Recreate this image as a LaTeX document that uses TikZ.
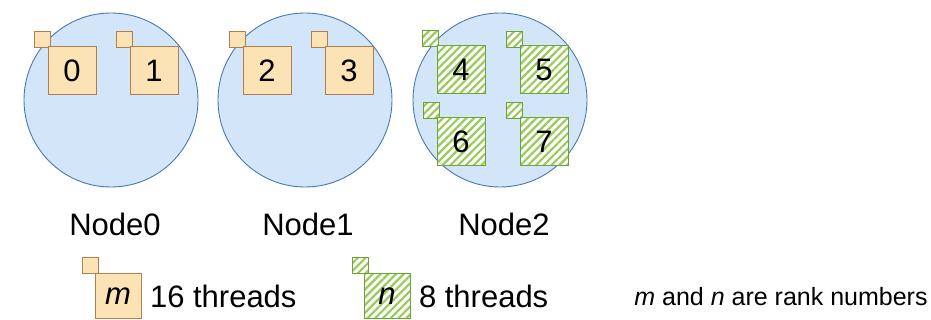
\documentclass[tikz,border=0pt]{standalone}
\usepackage{fontspec}
\setmainfont{Liberation Sans}
\usetikzlibrary{positioning,patterns.meta}

\definecolor{hostfill}{HTML}{D3E5F8}
\definecolor{hostedge}{HTML}{4A79B2}
\definecolor{rankfill}{HTML}{FBE3B6}
\definecolor{rankedge}{HTML}{B27E50}
\definecolor{hatchgreen}{HTML}{9ACB5A}
\definecolor{greenedge}{HTML}{6AA436}

\begin{document}
\begin{tikzpicture}[x=1pt, y=-1pt]
        \tikzstyle{host} = [circle, draw=hostedge, fill=hostfill, line width=0.9pt, minimum size=174pt, inner sep=0pt]
        \tikzstyle{rank} = [rectangle, draw=rankedge, fill=rankfill, line width=1pt, minimum size=48pt, inner sep=0pt, font=\fontsize{31}{36}\selectfont]
        \tikzstyle{tag} = [rectangle, draw=rankedge, fill=rankfill, line width=1pt, minimum size=16pt, inner sep=0pt, anchor=south east, xshift=3pt, yshift=-1pt]
        \tikzstyle{hatched} = [draw=greenedge, preaction={fill=white}, pattern={Lines[angle=45, distance=5.5pt, line width=2.2pt]}, pattern color=hatchgreen]
        \tikzstyle{caption} = [font=\fontsize{31}{36}\selectfont]

        \useasboundingbox (0,0) rectangle (931,320);

        % the three hosts
        \node [host] (host0) at (111,100) {};
        \node [host] (host1) at (305,100) {};
        \node [host] (host2) at (500,100) {};
        \node [caption] (name0) at (115,224) {Node0};
        \node [caption] (name1) at (308,224) {Node1};
        \node [caption] (name2) at (504,224) {Node2};

        % 16-thread ranks
        \node [tag] (tag0) at (48,47) {};
        \node [rank] (r0) at (72,71) {0};
        \node [tag] (tag1) at (130,47) {};
        \node [rank] (r1) at (154,71) {1};
        \node [tag] (tag2) at (243,47) {};
        \node [rank] (r2) at (267,71) {2};
        \node [tag] (tag3) at (325,47) {};
        \node [rank] (r3) at (349,71) {3};

        % 8-thread ranks
        \node [tag, hatched] (tag4) at (437,47) {};
        \node [rank, hatched] (r4) at (461,70) {4};
        \node [tag, hatched] (tag5) at (520,47) {};
        \node [rank, hatched] (r5) at (544,70) {5};
        \node [tag, hatched] (tag6) at (437,118) {};
        \node [rank, hatched] (r6) at (461,142) {6};
        \node [tag, hatched] (tag7) at (520,118) {};
        \node [rank, hatched] (r7) at (544,142) {7};

        % legend
        \node [tag] (keytagm) at (96,273) {};
        \node [rank, minimum width=46pt, minimum height=45pt] (keym) at (118,296) {\textit{m}};
        \node [caption, right=5pt of keym] (threadsm) {16 threads};
        \node [tag, hatched] (keytagn) at (366,273) {};
        \node [rank, hatched, minimum width=46pt, minimum height=45pt] (keyn) at (387,296) {\textit{n}};
        \node [caption, right=5pt of keyn] (threadsn) {8 threads};
        \node [font=\fontsize{25}{30}\selectfont] (note) at (781,297) {\textit{m} and \textit{n} are rank numbers};
    \end{tikzpicture}
\end{document}
